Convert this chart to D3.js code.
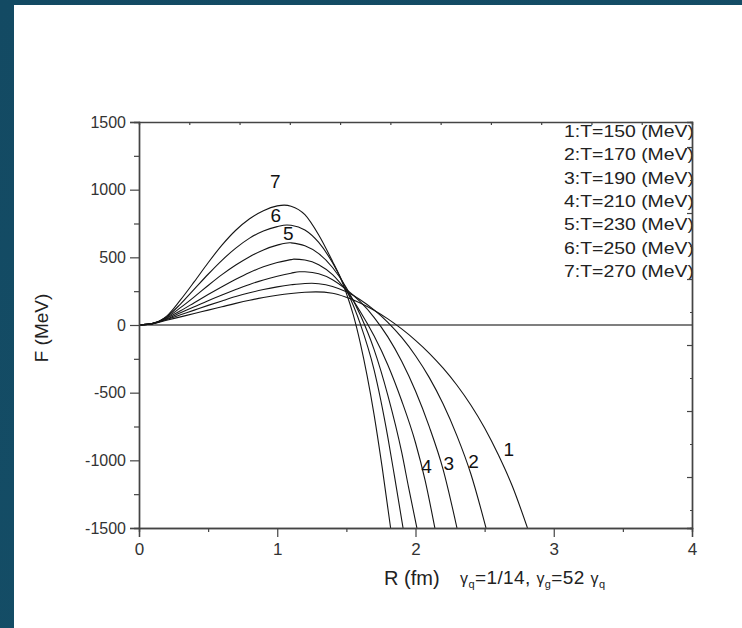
<!DOCTYPE html>
<html>
<head>
<meta charset="utf-8">
<script src="https://cdn.jsdelivr.net/npm/d3@7"></script>
<style>
  html, body { margin: 0; padding: 0; background: #12465e; }
  svg { display: block; }
  text { font-family: "Liberation Sans", Arial, sans-serif; }
</style>
</head>
<body>
<script>
// Free energy F(R) for several temperatures, gamma_q = 1/14, gamma_g = 52 gamma_q
const temperatures = [150, 170, 190, 210, 230, 250, 270];

const curveT150 = [[0,0],[0.1,10],[0.2,35],[0.3,60],[0.4,85],[0.5,110],[0.6,135],[0.7,160],[0.8,183],[0.9,203],[1.0,220],[1.1,233],[1.2,242],[1.28,245],[1.4,235],[1.5,205],[1.6,163],[1.7,109],[1.8,45],[1.9,-29],[2.0,-113],[2.1,-209],[2.2,-319],[2.3,-445],[2.4,-591],[2.5,-761],[2.6,-961],[2.7,-1190],[2.81,-1500]];
const curveT170 = [[0,0],[0.1,10],[0.2,40],[0.3,75],[0.4,110],[0.5,145],[0.6,178],[0.7,210],[0.8,238],[0.9,262],[1.0,282],[1.1,297],[1.2,307],[1.25,308],[1.3,305],[1.4,285],[1.5,245],[1.6,187],[1.7,112],[1.8,20],[1.9,-92],[2.0,-227],[2.1,-389],[2.2,-584],[2.3,-819],[2.4,-1099],[2.51,-1500]];
const curveT190 = [[0,0],[0.1,10],[0.2,45],[0.3,90],[0.4,135],[0.5,180],[0.6,222],[0.7,262],[0.8,300],[0.9,333],[1.0,360],[1.1,383],[1.16,394],[1.2,393],[1.3,378],[1.4,335],[1.5,262],[1.6,172],[1.7,57],[1.8,-88],[1.9,-268],[2.0,-488],[2.1,-753],[2.2,-1068],[2.3,-1500]];
const curveT210 = [[0,0],[0.1,10],[0.2,50],[0.3,105],[0.4,165],[0.5,225],[0.6,283],[0.7,338],[0.8,388],[0.9,430],[1.0,462],[1.1,483],[1.12,487],[1.2,480],[1.3,446],[1.4,372],[1.5,252],[1.6,100],[1.7,-80],[1.8,-295],[1.9,-560],[2.0,-870],[2.07,-1150],[2.14,-1500]];
const curveT230 = [[0,0],[0.1,12],[0.2,55],[0.3,128],[0.4,208],[0.5,292],[0.6,372],[0.7,443],[0.8,505],[0.9,555],[1.0,590],[1.09,608],[1.1,607],[1.2,585],[1.3,527],[1.4,425],[1.5,275],[1.6,75],[1.7,-180],[1.8,-520],[1.9,-940],[1.95,-1200],[2.01,-1500]];
const curveT250 = [[0,0],[0.1,12],[0.2,60],[0.3,155],[0.4,265],[0.5,375],[0.6,478],[0.7,568],[0.8,642],[0.9,695],[1.0,727],[1.07,739],[1.1,737],[1.2,702],[1.3,610],[1.4,460],[1.5,262],[1.6,10],[1.7,-330],[1.8,-830],[1.85,-1130],[1.91,-1500]];
const curveT270 = [[0,0],[0.1,12],[0.2,65],[0.3,185],[0.4,320],[0.5,460],[0.6,590],[0.7,700],[0.8,785],[0.9,845],[1.0,880],[1.05,886],[1.1,878],[1.2,815],[1.3,665],[1.4,470],[1.45,365],[1.5,235],[1.55,75],[1.6,-130],[1.7,-660],[1.76,-1060],[1.82,-1500]];

const zeroLine = [[0,0],[4,0]];

const xTicks = [0, 1, 2, 3, 4];
const xMinorTicks = [0.5, 1.5, 2.5, 3.5];
const yTicks = [-1500, -1000, -500, 0, 500, 1000, 1500];
const yMinorTicks = [-1250, -750, -250, 250, 750, 1250];

const legendLabels = temperatures.map((t, i) => `${i + 1}:T=${t} (MeV)`);

// curve number labels, anchored in data coordinates
const curveLabels = [
  {text: "7", r: 0.985, f: 1010},
  {text: "6", r: 0.99, f: 760},
  {text: "5", r: 1.08, f: 625},
  {text: "4", r: 2.08, f: -1090},
  {text: "3", r: 2.24, f: -1075},
  {text: "2", r: 2.42, f: -1055},
  {text: "1", r: 2.675, f: -970}
];

const series = [curveT150, curveT170, curveT190, curveT210, curveT230, curveT250, curveT270];

const W = 742, H = 628;
const margin = {left: 139, top: 122, right: 50, bottom: 100};
const iw = 553, ih = 406;

const svg = d3.select("body").append("svg").attr("width", W).attr("height", H);

const defs = svg.append("defs");
const grad = defs.append("linearGradient").attr("id", "frame")
  .attr("x1", "0%").attr("y1", "0%").attr("x2", "100%").attr("y2", "100%");
grad.append("stop").attr("offset", "0%").attr("stop-color", "#134a63");
grad.append("stop").attr("offset", "60%").attr("stop-color", "#144d66");
grad.append("stop").attr("offset", "100%").attr("stop-color", "#0f3c54");
svg.append("rect").attr("width", W).attr("height", H).attr("fill", "url(#frame)");
svg.append("rect").attr("x", 14).attr("y", 5).attr("width", W - 14).attr("height", H - 5).attr("fill", "#ffffff");

defs.append("clipPath").attr("id", "plotclip")
  .append("rect").attr("x", 0).attr("y", 0).attr("width", iw).attr("height", ih);

const g = svg.append("g").attr("transform", `translate(${margin.left},${margin.top})`);

const x = d3.scaleLinear().domain([0, 4]).range([0, iw]);
const y = d3.scaleLinear().domain([-1500, 1500]).range([ih, 0]);

const line = d3.line().x(d => x(d[0])).y(d => y(d[1])).curve(d3.curveMonotoneX);

const plot = g.append("g").attr("clip-path", "url(#plotclip)");
plot.append("path").datum(zeroLine).attr("d", line)
  .attr("fill", "none").attr("stroke", "#555").attr("stroke-width", 1.4);
plot.selectAll("path.curve").data(series).join("path")
  .attr("class", "curve")
  .attr("d", line)
  .attr("fill", "none")
  .attr("stroke", "#151515")
  .attr("stroke-width", 1.1);

// legend text against the right edge
g.append("g").selectAll("text").data(legendLabels).join("text")
  .attr("x", iw + 2)
  .attr("y", (d, i) => 15 + i * 23.3)
  .attr("text-anchor", "end")
  .attr("font-size", 17)
  .attr("textLength", 130)
  .attr("lengthAdjust", "spacingAndGlyphs")
  .attr("fill", "#222")
  .text(d => d);

// curve numbers
g.append("g").selectAll("text").data(curveLabels).join("text")
  .attr("x", d => x(d.r))
  .attr("y", d => y(d.f))
  .attr("text-anchor", "middle")
  .attr("font-size", 19)
  .attr("fill", "#111")
  .text(d => d.text);

const axisColor = "#444";
function styleAxis(sel, fontSize) {
  sel.select(".domain").attr("stroke", axisColor).attr("stroke-width", 1.4);
  sel.selectAll(".tick line").attr("stroke", axisColor).attr("stroke-width", 1.2);
  sel.selectAll(".tick text").attr("fill", "#333").attr("font-size", fontSize)
    .attr("font-family", "'Liberation Sans', Arial, sans-serif");
}

// bottom axis
const xb = g.append("g").attr("transform", `translate(0,${ih})`)
  .call(d3.axisBottom(x).tickValues(xTicks).tickSize(9).tickPadding(6).tickFormat(d => String(d)));
styleAxis(xb, 17);
const xbm = g.append("g").attr("transform", `translate(0,${ih})`)
  .call(d3.axisBottom(x).tickValues(xMinorTicks).tickSize(4).tickFormat(""));
styleAxis(xbm, 17);

// left axis
const yl = g.append("g")
  .call(d3.axisLeft(y).tickValues(yTicks).tickSize(9).tickPadding(4).tickFormat(d => String(d)));
styleAxis(yl, 16);
const ylm = g.append("g")
  .call(d3.axisLeft(y).tickValues(yMinorTicks).tickSize(5).tickFormat(""));
styleAxis(ylm, 16);

// top axis: plain frame edge with small inward ticks
const xTop = d3.scaleLinear().domain([0, 11]).range([0, iw]);
const xt = g.append("g")
  .call(d3.axisTop(xTop).tickValues(d3.range(1, 11)).tickSize(-3).tickFormat(""));
styleAxis(xt, 16);

// right axis: frame edge with inward ticks
const yRight = d3.scaleLinear().domain([-5.545, 6.758]).range([ih, 0]);
const yrMaj = g.append("g").attr("transform", `translate(${iw},0)`)
  .call(d3.axisRight(yRight).tickValues([-4, -2, 0, 2, 4, 6]).tickSize(-5).tickFormat(""));
styleAxis(yrMaj, 16);
const yrMin = g.append("g").attr("transform", `translate(${iw},0)`)
  .call(d3.axisRight(yRight).tickValues([-5, -3, -1, 1, 3, 5]).tickSize(-2).tickFormat(""));
styleAxis(yrMin, 16);

// axis titles
svg.append("text")
  .attr("transform", "translate(48,328) rotate(-90)")
  .attr("text-anchor", "middle")
  .attr("font-size", 19)
  .attr("fill", "#222")
  .text("F (MeV)");

svg.append("text")
  .attr("x", 384).attr("y", 585)
  .attr("font-size", 20)
  .attr("fill", "#222")
  .text("R (fm)");

const gam = svg.append("text")
  .attr("x", 460).attr("y", 584)
  .attr("font-size", 19)
  .attr("fill", "#222")
  .attr("textLength", 145)
  .attr("lengthAdjust", "spacing");
gam.append("tspan").attr("font-size", 16).text("γ");
gam.append("tspan").attr("font-size", 11).attr("dy", 4).text("q");
gam.append("tspan").attr("dy", -4).text("=1/14, ");
gam.append("tspan").attr("font-size", 16).text("γ");
gam.append("tspan").attr("font-size", 11).attr("dy", 4).text("g");
gam.append("tspan").attr("dy", -4).text("=52 ");
gam.append("tspan").attr("font-size", 16).text("γ");
gam.append("tspan").attr("font-size", 11).attr("dy", 4).text("q");
</script>
</body>
</html>
